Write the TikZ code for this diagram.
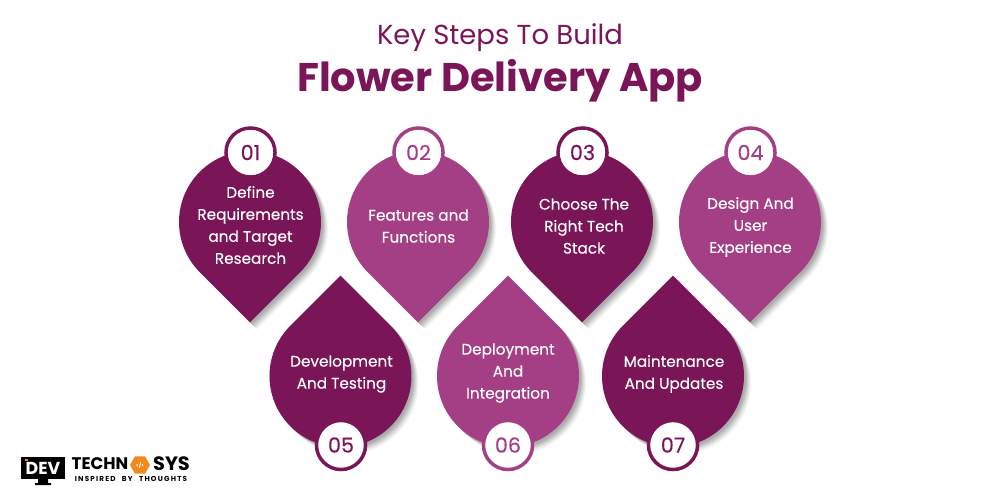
\documentclass[tikz,border=0pt]{standalone}
\usepackage{fontspec}
\setmainfont{Poppins}
\newfontfamily\mediumfont[FakeBold=0.25]{Poppins}
\usetikzlibrary{shapes.geometric}
\definecolor{darkplum}{HTML}{7A1558}
\definecolor{lightplum}{HTML}{A53F85}
\definecolor{orangelogo}{HTML}{F08A1D}

\begin{document}
\begin{tikzpicture}
[x=0.75pt,y=-0.75pt,%
  label/.style={align=center,text=white,inner sep=0pt,font=\fontsize{11.45}{16.5}\selectfont\mediumfont},%
  badge/.style={shape=circle,draw,fill=white,line width=2.6pt,minimum size=36.8pt,inner sep=0pt,font=\fontsize{15.5}{18}\selectfont\mediumfont},%
  logo/.style={inner sep=0pt,text=black}]
\useasboundingbox (0,0) rectangle (1000,500);
% upper row
\foreach \cx/\col in {250/darkplum,418/lightplum,582/darkplum,750/lightplum}{
  \foreach \d/\op in {7/0.04,6/0.05,5/0.06,4/0.07,3/0.08,2/0.08}
    \fill[black,opacity=\op] (\cx+\d,322.4+\d) -- ++(-50.2,-50.2)
      arc[start angle=135,end angle=405,radius=71] -- cycle;
  \fill[\col] (\cx,322.4) -- ++(-50.2,-50.2) arc[start angle=135,end angle=405,radius=71] -- cycle;
}
% lower row, tip on top
\foreach \cx/\col in {340.5/darkplum,508/lightplum,673/darkplum}{
  \foreach \d/\op in {7/0.04,6/0.05,5/0.06,4/0.07,3/0.08,2/0.08}
    \fill[black,opacity=\op] (\cx+\d,275.6+\d) -- ++(50.2,50.2)
      arc[start angle=-45,end angle=225,radius=71] -- cycle;
  \fill[\col] (\cx,275.6) -- ++(50.2,50.2) arc[start angle=-45,end angle=225,radius=71] -- cycle;
}
\node[text=darkplum,inner sep=0pt,font=\fontsize{20.6}{24}\selectfont] (subtitle) at (500,38) {Key Steps To Build};
\node[text=darkplum,inner sep=0pt,font=\fontsize{30}{36}\selectfont\bfseries] (title) at (500,81) {Flower Delivery App};
\node[label] (text1) at (250.5,225) {Define\\Requirements\\and Target\\Research};
\node[label] (text2) at (418.5,226) {Features and\\Functions};
\node[label] (text3) at (584,226) {Choose The\\Right Tech\\Stack};
\node[label] (text4) at (750.5,227) {Design And\\User\\Experience};
\node[label] (text5) at (341.5,374) {Development\\And Testing};
\node[label] (text6) at (508,373) {Deployment\\And\\Integration};
\node[label] (text7) at (674,374) {Maintenance\\And Updates};
\node[badge,draw=darkplum,text=darkplum] (num1) at (250.5,152.5) {01};
\node[badge,draw=lightplum,text=lightplum] (num2) at (418.5,152.5) {02};
\node[badge,draw=darkplum,text=darkplum] (num3) at (582.5,152.5) {03};
\node[badge,draw=lightplum,text=lightplum] (num4) at (750.5,152.5) {04};
\node[badge,draw=darkplum,text=darkplum] (num5) at (341,445) {05};
\node[badge,draw=lightplum,text=lightplum] (num6) at (508,445) {06};
\node[badge,draw=darkplum,text=darkplum] (num7) at (673,445) {07};
% logo
\fill[black] (21,457) rectangle (65,479);
\fill[black] (38,479) rectangle (48,483) (35,483) rectangle (51,485);
\fill[orangelogo] (25,458.5) rectangle (28,461);
\node[logo,text=white,font=\fontsize{13}{13}\selectfont\bfseries] (logodev) at (43,468.5) {DEV};
\node[logo,font=\fontsize{12.6}{12.6}\selectfont\bfseries] (logotech) at (100,464) {TECHN};
\node[shape=regular polygon,regular polygon sides=6,fill=orangelogo,minimum size=15pt,inner sep=0pt,text=white,font=\fontsize{4}{4}\selectfont\bfseries] (logohex) at (140,465) {</>};
\node[logo,font=\fontsize{14.5}{14.5}\selectfont\bfseries] (logosys) at (171.5,464) {SYS};
\node[logo,font=\fontsize{5.4}{5.4}\selectfont\bfseries] (logotag) at (131,478.5) {I\,N\,S\,P\,I\,R\,E\,D\,\,\,\, B\,Y\,\,\,\, T\,H\,O\,U\,G\,H\,T\,S};
\end{tikzpicture}
\end{document}
